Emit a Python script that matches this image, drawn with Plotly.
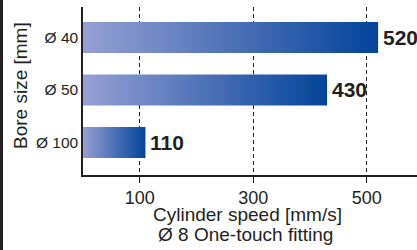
import plotly.graph_objects as go

categories = ["Ø 40", "Ø 50", "Ø 100"]
speeds = [520, 430, 110]
x_ticks = [100, 300, 500]
x_title = "Cylinder speed [mm/s]"
subtitle = "Ø 8 One-touch fitting"
y_title = "Bore size [mm]"

W, H = 417, 250
L, R, T, B = 83, 0, 7, 75
pw, ph = W - L - R, H - T - B

light = "rgb(150,160,211)"
dark = "rgb(4,68,154)"
txt = "#231f20"
font = "Liberation Sans, Arial, Helvetica, sans-serif"

n = len(categories)
pos = [n - 1 - i for i in range(n)]  # top to bottom
half = 0.295

fig = go.Figure()
for c, v, p in zip(categories, speeds, pos):
    fig.add_trace(go.Scatter(
        x=[0, v, v, 0, 0],
        y=[p - half, p - half, p + half, p + half, p - half],
        mode="lines", fill="toself",
        line=dict(width=0, color=dark),
        fillgradient=dict(type="horizontal", start=0, stop=v,
                          colorscale=[[0, light], [1, dark]]),
        hoverinfo="skip", showlegend=False,
    ))
    fig.add_annotation(x=v, y=p, text=f"<b>{v}</b>", showarrow=False,
                       xanchor="left", yanchor="middle", xshift=3,
                       font=dict(size=21, color=txt, family=font))

fig.update_xaxes(range=[0, 588.5], tickvals=x_ticks,
                 ticktext=[str(t) for t in x_ticks],
                 showgrid=True, gridcolor=txt, gridwidth=1, griddash="4px,3px",
                 showline=True, linecolor=txt, linewidth=1.5,
                 ticks="outside", ticklen=6, tickcolor=txt, tickwidth=1,
                 tickfont=dict(size=18, color=txt, family=font),
                 zeroline=False, fixedrange=True)
fig.update_yaxes(range=[-0.62, 2.58], tickvals=pos, ticktext=categories,
                 showgrid=False, zeroline=False,
                 showline=True, linecolor=txt, linewidth=1.5,
                 ticks="", tickfont=dict(size=15.5, color=txt, family=font),
                 fixedrange=True)

# left border strip
fig.add_shape(type="rect", xref="paper", yref="paper",
              x0=-L / pw, x1=(3 - L) / pw, y0=-B / ph, y1=1 + T / ph,
              fillcolor=txt, line=dict(width=0), layer="above")

fig.add_annotation(xref="paper", yref="paper", x=(20 - L) / pw, y=(T + ph - 86) / ph,
                   text=y_title, textangle=-90, showarrow=False,
                   xanchor="center", yanchor="middle",
                   font=dict(size=19, color=txt, family=font))
fig.add_annotation(xref="paper", yref="paper", x=(247.5 - L) / pw, y=(T + ph - 214) / ph,
                   text=x_title, showarrow=False, xanchor="center", yanchor="middle",
                   font=dict(size=19, color=txt, family=font))
fig.add_annotation(xref="paper", yref="paper", x=(245.5 - L) / pw, y=(T + ph - 234) / ph,
                   text=subtitle, showarrow=False, xanchor="center", yanchor="middle",
                   font=dict(size=19, color=txt, family=font))

fig.update_layout(width=W, height=H, margin=dict(l=L, r=R, t=T, b=B),
                  paper_bgcolor="white", plot_bgcolor="white",
                  font=dict(family=font, color=txt), showlegend=False)

fig.write_html("out.html", config={"displayModeBar": False},
               post_script="document.body.style.margin='0px';document.body.style.overflow='hidden';")
